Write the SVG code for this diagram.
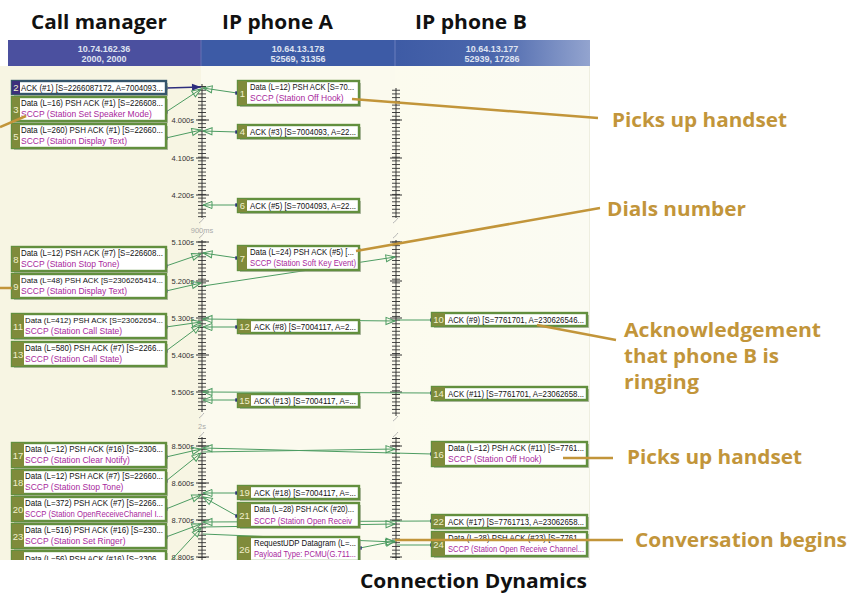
<svg xmlns="http://www.w3.org/2000/svg" width="864" height="594" viewBox="0 0 864 594">
<style>
.bx{fill:#fff;stroke:#628f3e;stroke-width:2.4}
.sh{fill:#8e9784;opacity:.6}
.nb{fill:#7f8b3b}
.nt{font-family:"Liberation Sans",Arial,sans-serif;font-size:9.5px;fill:#f1efcb;text-anchor:middle}
.t1{font-family:"Liberation Sans",Arial,sans-serif;font-size:8.5px;fill:#111}
.t1s{font-family:"Liberation Sans",Arial,sans-serif;font-size:8px;fill:#111}
.t2{font-family:"Liberation Sans",Arial,sans-serif;font-size:8.5px;fill:#a8289c}
.ht{font-family:"Liberation Sans",Arial,sans-serif;font-weight:bold;font-size:9px;fill:#dfe3f0;text-anchor:middle}
.tl{font-family:"Liberation Sans",Arial,sans-serif;font-size:7.5px;fill:#333;text-anchor:end}
.gl{font-family:"Liberation Sans",Arial,sans-serif;font-size:7.5px;fill:#aaa;text-anchor:middle}
.ti{font-family:"Open Sans","Liberation Sans",sans-serif;font-weight:700;font-size:20px;fill:#111}
.an{font-family:"Open Sans","Liberation Sans",sans-serif;font-weight:700;font-size:20px;fill:#c2953a}
.ld{stroke:#c2953a;stroke-width:2.5;fill:none}
.c{stroke:#4d9c62;stroke-width:1;fill:none;marker-end:url(#ar)}
.s{marker-start:url(#sq)}
.cn{stroke:#4d9c62;stroke-width:1;fill:none}
</style>
<defs>
<marker id="ar" markerUnits="userSpaceOnUse" refX="9" refY="3.5" markerWidth="10" markerHeight="8" orient="auto" overflow="visible"><path d="M0,0 L9,3.5 L0,7 Z" fill="none" stroke="#4d9c62" stroke-width="1"/></marker>
<marker id="ars" markerUnits="userSpaceOnUse" refX="9" refY="3.5" markerWidth="10" markerHeight="8" orient="auto-start-reverse" overflow="visible"><path d="M0,0 L9,3.5 L0,7 Z" fill="none" stroke="#4d9c62" stroke-width="1"/></marker>
<marker id="af" markerUnits="userSpaceOnUse" refX="9" refY="3.5" markerWidth="10" markerHeight="8" orient="auto" overflow="visible"><path d="M0,0 L9,3.5 L0,7 Z" fill="#2d2d7d"/></marker>
<marker id="sq" markerUnits="userSpaceOnUse" refX="0" refY="0" markerWidth="4" markerHeight="4" overflow="visible"><rect x="-1.7" y="-1.7" width="3.4" height="3.4" fill="#23237a"/></marker>
<pattern id="tk1" patternUnits="userSpaceOnUse" x="195" y="119.5" width="194" height="3.72"><rect x="3" y="0" width="8" height="0.9" fill="#333"/></pattern>
<pattern id="tk2" patternUnits="userSpaceOnUse" x="195" y="241.5" width="194" height="3.72"><rect x="3" y="0" width="8" height="0.9" fill="#333"/></pattern>
<pattern id="tk3" patternUnits="userSpaceOnUse" x="195" y="445.5" width="194" height="3.72"><rect x="3" y="0" width="8" height="0.9" fill="#333"/></pattern>
<linearGradient id="g3" x1="0" x2="1" y1="0" y2="0"><stop offset="0" stop-color="#3e5ba5"/><stop offset="0.5" stop-color="#4a66ac"/><stop offset="1" stop-color="#93a4cf"/></linearGradient>
<linearGradient id="b3" x1="0" x2="1" y1="0" y2="0"><stop offset="0" stop-color="#fcfbee"/><stop offset="1" stop-color="#fbfbf3"/></linearGradient>
<clipPath id="cb"><rect x="0" y="0" width="864" height="560"/></clipPath>
</defs>
<rect width="864" height="594" fill="#fff"/>

<g id="titles">
<text class="ti" x="31" y="29" textLength="136" lengthAdjust="spacingAndGlyphs">Call manager</text>
<text class="ti" x="222" y="29" textLength="111" lengthAdjust="spacingAndGlyphs">IP phone A</text>
<text class="ti" x="415" y="29" textLength="112" lengthAdjust="spacingAndGlyphs">IP phone B</text>
<text class="ti" x="360" y="588" textLength="227" lengthAdjust="spacingAndGlyphs">Connection Dynamics</text>
</g>

<g id="panel" clip-path="url(#cb)">
<rect x="0" y="66" width="201" height="494" fill="#f7f5e3"/>
<rect x="201" y="66" width="194" height="494" fill="#fbfaee"/>
<rect x="395" y="66" width="194" height="494" fill="url(#b3)"/>
<line x1="589.5" y1="66" x2="589.5" y2="560" stroke="#eeeee0"/>
<rect x="8" y="40" width="193" height="26" fill="#4b509f"/>
<rect x="201" y="40" width="194" height="26" fill="#3d5ba6"/>
<rect x="395" y="40" width="195" height="26" fill="url(#g3)"/>
<line x1="201" y1="40" x2="201" y2="66" stroke="#6672b4"/>
<line x1="395" y1="40" x2="395" y2="66" stroke="#6b7fbe"/>
<text class="ht" x="104" y="52">10.74.162.36</text>
<text class="ht" x="104" y="62">2000, 2000</text>
<text class="ht" x="298" y="52">10.64.13.178</text>
<text class="ht" x="298" y="62">52569, 31356</text>
<text class="ht" x="492" y="52">10.64.13.177</text>
<text class="ht" x="492" y="62">52939, 17286</text>
</g>

<g id="timeline" clip-path="url(#cb)">
<rect x="198" y="84" width="8" height="134" fill="url(#tk1)"/>
<rect x="392" y="88" width="8" height="130" fill="url(#tk1)"/>
<rect x="198" y="240" width="8" height="172" fill="url(#tk2)"/>
<rect x="392" y="240" width="8" height="176" fill="url(#tk2)"/>
<rect x="198" y="437" width="8" height="123" fill="url(#tk3)"/>
<rect x="392" y="437" width="8" height="123" fill="url(#tk3)"/>
<path d="M202,84V218M202,240V412M202,437V560M396,88V218M396,240V416M396,437V560" stroke="#333" stroke-width="1"/>
<path d="M196,120H209M196,158H209M196,195H209M196,242H209M196,281H209M196,318H209M196,355H209M196,392H209M196,446H209M196,483H209M196,520H209M196,557H209M390,120H402M390,158H402M390,195H402M390,242H402M390,281H402M390,318H402M390,355H402M390,392H402M390,446H402M390,483H402M390,520H402M390,557H402" stroke="#333" stroke-width="1"/>
<path d="M199,223c2,-1 3,-3 5,-5M199,238c2,-1 3,-3 5,-5M199,418c2,-1 3,-3 5,-5M199,437c2,-1 3,-3 5,-5M393,223c2,-1 3,-3 5,-5M393,238c2,-1 3,-3 5,-5M393,421c2,-1 3,-3 5,-5M393,437c2,-1 3,-3 5,-5" stroke="#b5b5b5" fill="none"/>
<text class="gl" x="202" y="233">900ms</text>
<text class="gl" x="202" y="429">2s</text>
<text class="tl" x="194" y="123">4.000s</text>
<text class="tl" x="194" y="161">4.100s</text>
<text class="tl" x="194" y="198">4.200s</text>
<text class="tl" x="194" y="245">5.100s</text>
<text class="tl" x="194" y="284">5.200s</text>
<text class="tl" x="194" y="321">5.300s</text>
<text class="tl" x="194" y="358">5.400s</text>
<text class="tl" x="194" y="395">5.500s</text>
<text class="tl" x="194" y="449">8.500s</text>
<text class="tl" x="194" y="486">8.600s</text>
<text class="tl" x="194" y="523">8.700s</text>
<text class="tl" x="194" y="560">8.800s</text>
</g>

<g id="connectors" clip-path="url(#cb)">
<path d="M166,88 L201,87" stroke="#2d2d7d" stroke-width="1.3" fill="none" marker-start="url(#sq)" marker-end="url(#af)"/>
<path class="c s" d="M166,112 L201,89"/>
<path class="c s" d="M237,93 L203,88"/>
<path class="c s" d="M166,138 L201,130"/>
<path class="c s" d="M237,132 L203,131"/>
<path class="c s" d="M237,205 L203,205"/>
<path class="c s" d="M166,266 L201,254"/>
<path class="c s" d="M237,258 L203,253"/>
<path class="c s" d="M166,291 L201,283"/>
<path class="c" d="M203,286 L395,257"/>
<path class="c s" d="M166,327 L201,322"/>
<path class="c s" d="M166,351 L201,325"/>
<path class="c s" d="M237,327 L203,327"/>
<path class="c" d="M203,319 L395,321" marker-start="url(#ars)"/>
<path class="cn s" d="M432,320 L397,320"/>
<path class="c s" d="M432,393 L203,392"/>
<path class="c s" d="M237,400 L203,400"/>
<path class="c s" d="M166,457 L201,449"/>
<path class="c s" d="M166,481 L201,453"/>
<path class="c" d="M203,452 L395,449"/>
<path class="c s" d="M432,454 L203,448"/>
<path class="c s" d="M166,509 L201,495"/>
<path class="c s" d="M237,493 L203,493"/>
<path class="c s" d="M237,516 L203,497"/>
<path class="c s" d="M166,537 L201,524"/>
<path class="c s" d="M432,521 L203,522"/>
<path class="c" d="M203,527 L395,524"/>
<path class="c" d="M203,534 L395,542"/>
<path class="cn s" d="M432,545 L397,545"/>
<path class="c s" d="M360,548 L395,541"/>
<path class="c" d="M166,566 L201,528"/>
</g>

<g id="nodes" clip-path="url(#cb)">
<g id="n2"><rect class="sh" x="14" y="83" width="154" height="13"/><rect x="12" y="81" width="154" height="13" fill="#fff" stroke="#35556b" stroke-width="2.4"/><rect x="12" y="81" width="8" height="13" fill="#3d2f7c"/><text class="nt" x="16" y="91" fill="#fff">2</text><text class="t1" x="21" y="91" textLength="142" lengthAdjust="spacingAndGlyphs">ACK (#1) [S=2266087172, A=7004093...</text></g>
<g id="n3"><rect class="sh" x="14" y="99" width="154" height="24"/><rect class="bx" x="12" y="97" width="154" height="24"/><rect class="nb" x="12" y="97" width="8" height="24"/><text class="nt" x="16" y="113">3</text><text class="t1" x="21" y="106" textLength="142" lengthAdjust="spacingAndGlyphs">Data (L=16) PSH ACK (#1) [S=226608...</text><text class="t2" x="21" y="117">SCCP (Station Set Speaker Mode)</text></g>
<g id="n5"><rect class="sh" x="14" y="126" width="154" height="24"/><rect class="bx" x="12" y="124" width="154" height="24"/><rect class="nb" x="12" y="124" width="8" height="24"/><text class="nt" x="16" y="140">5</text><text class="t1" x="21" y="133" textLength="142" lengthAdjust="spacingAndGlyphs">Data (L=260) PSH ACK (#1) [S=22660...</text><text class="t2" x="21" y="144">SCCP (Station Display Text)</text></g>
<g id="n8"><rect class="sh" x="14" y="249" width="154" height="24"/><rect class="bx" x="12" y="247" width="154" height="24"/><rect class="nb" x="12" y="247" width="8" height="24"/><text class="nt" x="16" y="263">8</text><text class="t1" x="21" y="256" textLength="142" lengthAdjust="spacingAndGlyphs">Data (L=12) PSH ACK (#7) [S=226608...</text><text class="t2" x="21" y="267">SCCP (Station Stop Tone)</text></g>
<g id="n9"><rect class="sh" x="14" y="276" width="154" height="24"/><rect class="bx" x="12" y="274" width="154" height="24"/><rect class="nb" x="12" y="274" width="8" height="24"/><text class="nt" x="16" y="290">9</text><text class="t1s" x="21" y="283" textLength="142" lengthAdjust="spacingAndGlyphs">Data (L=48) PSH ACK [S=2306265414...</text><text class="t2" x="21" y="294">SCCP (Station Display Text)</text></g>
<g id="n11"><rect class="sh" x="14" y="316" width="154" height="24"/><rect class="bx" x="12" y="314" width="154" height="24"/><rect class="nb" x="12" y="314" width="12" height="24"/><text class="nt" x="18" y="330">11</text><text class="t1s" x="25" y="323" textLength="138" lengthAdjust="spacingAndGlyphs">Data (L=412) PSH ACK [S=23062654...</text><text class="t2" x="25" y="334">SCCP (Station Call State)</text></g>
<g id="n13"><rect class="sh" x="14" y="344" width="154" height="24"/><rect class="bx" x="12" y="342" width="154" height="24"/><rect class="nb" x="12" y="342" width="12" height="24"/><text class="nt" x="18" y="358">13</text><text class="t1" x="25" y="351" textLength="138" lengthAdjust="spacingAndGlyphs">Data (L=580) PSH ACK (#7) [S=2266...</text><text class="t2" x="25" y="362">SCCP (Station Call State)</text></g>
<g id="n17"><rect class="sh" x="14" y="445" width="154" height="24"/><rect class="bx" x="12" y="443" width="154" height="24"/><rect class="nb" x="12" y="443" width="12" height="24"/><text class="nt" x="18" y="459">17</text><text class="t1" x="25" y="452" textLength="138" lengthAdjust="spacingAndGlyphs">Data (L=12) PSH ACK (#16) [S=2306...</text><text class="t2" x="25" y="463">SCCP (Station Clear Notify)</text></g>
<g id="n18"><rect class="sh" x="14" y="472" width="154" height="24"/><rect class="bx" x="12" y="470" width="154" height="24"/><rect class="nb" x="12" y="470" width="12" height="24"/><text class="nt" x="18" y="486">18</text><text class="t1" x="25" y="479" textLength="138" lengthAdjust="spacingAndGlyphs">Data (L=12) PSH ACK (#7) [S=22660...</text><text class="t2" x="25" y="490">SCCP (Station Stop Tone)</text></g>
<g id="n20"><rect class="sh" x="14" y="499" width="154" height="24"/><rect class="bx" x="12" y="497" width="154" height="24"/><rect class="nb" x="12" y="497" width="12" height="24"/><text class="nt" x="18" y="513">20</text><text class="t1" x="25" y="506" textLength="138" lengthAdjust="spacingAndGlyphs">Data (L=372) PSH ACK (#7) [S=2266...</text><text class="t2" x="25" y="517" textLength="138" lengthAdjust="spacingAndGlyphs">SCCP (Station OpenReceiveChannel I...</text></g>
<g id="n23"><rect class="sh" x="14" y="526" width="154" height="24"/><rect class="bx" x="12" y="524" width="154" height="24"/><rect class="nb" x="12" y="524" width="12" height="24"/><text class="nt" x="18" y="540">23</text><text class="t1" x="25" y="533" textLength="138" lengthAdjust="spacingAndGlyphs">Data (L=516) PSH ACK (#16) [S=230...</text><text class="t2" x="25" y="544">SCCP (Station Set Ringer)</text></g>
<g id="n25"><rect class="sh" x="14" y="553" width="154" height="24"/><rect class="bx" x="12" y="551" width="154" height="24"/><rect class="nb" x="12" y="551" width="12" height="24"/><text class="t1" x="25" y="562" textLength="138" lengthAdjust="spacingAndGlyphs">Data (L=56) PSH ACK (#16) [S=2306...</text></g>

<g id="n1"><rect class="sh" x="240" y="83" width="121" height="24"/><rect class="bx" x="238" y="81" width="121" height="24"/><rect class="nb" x="238" y="81" width="9" height="24"/><text class="nt" x="242.5" y="97">1</text><text class="t1" x="250" y="90" textLength="104" lengthAdjust="spacingAndGlyphs">Data (L=12) PSH ACK [S=70...</text><text class="t2" x="250" y="101">SCCP (Station Off Hook)</text></g>
<g id="n4"><rect class="sh" x="240" y="127" width="121" height="13"/><rect class="bx" x="238" y="125" width="121" height="13"/><rect class="nb" x="238" y="125" width="9" height="13"/><text class="nt" x="242.5" y="135">4</text><text class="t1" x="250" y="135" textLength="106" lengthAdjust="spacingAndGlyphs">ACK (#3) [S=7004093, A=22...</text></g>
<g id="n6"><rect class="sh" x="240" y="201" width="121" height="13"/><rect class="bx" x="238" y="199" width="121" height="13"/><rect class="nb" x="238" y="199" width="9" height="13"/><text class="nt" x="242.5" y="209">6</text><text class="t1" x="250" y="209" textLength="106" lengthAdjust="spacingAndGlyphs">ACK (#5) [S=7004093, A=22...</text></g>
<g id="n7"><rect class="sh" x="240" y="248" width="121" height="24"/><rect class="bx" x="238" y="246" width="121" height="24"/><rect class="nb" x="238" y="246" width="9" height="24"/><text class="nt" x="242.5" y="262">7</text><text class="t1" x="250" y="255" textLength="104" lengthAdjust="spacingAndGlyphs">Data (L=24) PSH ACK (#5) [...</text><text class="t2" x="250" y="266" textLength="106" lengthAdjust="spacingAndGlyphs">SCCP (Station Soft Key Event)</text></g>
<g id="n12"><rect class="sh" x="240" y="322" width="121" height="13"/><rect class="bx" x="238" y="320" width="121" height="13"/><rect class="nb" x="238" y="320" width="13" height="13"/><text class="nt" x="244.5" y="330">12</text><text class="t1" x="254" y="330" textLength="102" lengthAdjust="spacingAndGlyphs">ACK (#8) [S=7004117, A=2...</text></g>
<g id="n15"><rect class="sh" x="240" y="396" width="121" height="13"/><rect class="bx" x="238" y="394" width="121" height="13"/><rect class="nb" x="238" y="394" width="13" height="13"/><text class="nt" x="244.5" y="404">15</text><text class="t1" x="254" y="404" textLength="102" lengthAdjust="spacingAndGlyphs">ACK (#13) [S=7004117, A=...</text></g>
<g id="n19"><rect class="sh" x="240" y="488" width="121" height="13"/><rect class="bx" x="238" y="486" width="121" height="13"/><rect class="nb" x="238" y="486" width="13" height="13"/><text class="nt" x="244.5" y="496">19</text><text class="t1" x="254" y="496" textLength="102" lengthAdjust="spacingAndGlyphs">ACK (#18) [S=7004117, A=...</text></g>
<g id="n21"><rect class="sh" x="240" y="505" width="121" height="24"/><rect class="bx" x="238" y="503" width="121" height="24"/><rect class="nb" x="238" y="503" width="13" height="24"/><text class="nt" x="244.5" y="519">21</text><text class="t1" x="254" y="512" textLength="100" lengthAdjust="spacingAndGlyphs">Data (L=28) PSH ACK (#20)...</text><text class="t2" x="254" y="524" textLength="98" lengthAdjust="spacingAndGlyphs">SCCP (Station Open Receiv</text></g>
<g id="n26"><rect class="sh" x="240" y="539" width="121" height="24"/><rect class="bx" x="238" y="537" width="121" height="24"/><rect class="nb" x="238" y="537" width="13" height="24"/><text class="nt" x="244.5" y="553">26</text><text class="t1" x="254" y="546" textLength="102" lengthAdjust="spacingAndGlyphs">RequestUDP Datagram  (L=...</text><text class="t2" x="254" y="557" textLength="102" lengthAdjust="spacingAndGlyphs">Payload Type: PCMU(G.711...</text></g>

<g id="n10"><rect class="sh" x="434" y="315" width="155" height="13"/><rect class="bx" x="432" y="313" width="155" height="13"/><rect class="nb" x="432" y="313" width="13" height="13"/><text class="nt" x="438.5" y="323">10</text><text class="t1" x="448" y="323" textLength="136" lengthAdjust="spacingAndGlyphs">ACK (#9) [S=7761701, A=230626546...</text></g>
<g id="n14"><rect class="sh" x="434" y="389" width="155" height="13"/><rect class="bx" x="432" y="387" width="155" height="13"/><rect class="nb" x="432" y="387" width="13" height="13"/><text class="nt" x="438.5" y="397">14</text><text class="t1" x="448" y="397" textLength="136" lengthAdjust="spacingAndGlyphs">ACK (#11) [S=7761701, A=23062658...</text></g>
<g id="n16"><rect class="sh" x="434" y="444" width="155" height="24"/><rect class="bx" x="432" y="442" width="155" height="24"/><rect class="nb" x="432" y="442" width="13" height="24"/><text class="nt" x="438.5" y="458">16</text><text class="t1" x="448" y="451" textLength="136" lengthAdjust="spacingAndGlyphs">Data (L=12) PSH ACK (#11) [S=7761...</text><text class="t2" x="448" y="462">SCCP (Station Off Hook)</text></g>
<g id="n22"><rect class="sh" x="434" y="517" width="155" height="13"/><rect class="bx" x="432" y="515" width="155" height="13"/><rect class="nb" x="432" y="515" width="13" height="13"/><text class="nt" x="438.5" y="525">22</text><text class="t1" x="448" y="525" textLength="136" lengthAdjust="spacingAndGlyphs">ACK (#17) [S=7761713, A=23062658...</text></g>
<g id="n24"><rect class="sh" x="434" y="534" width="155" height="24"/><rect class="bx" x="432" y="532" width="155" height="24"/><rect class="nb" x="432" y="532" width="13" height="24"/><text class="nt" x="438.5" y="548">24</text><text class="t1" x="448" y="541" textLength="136" lengthAdjust="spacingAndGlyphs">Data (L=28) PSH ACK (#23) [S=7761...</text><text class="t2" x="448" y="552" textLength="136" lengthAdjust="spacingAndGlyphs">SCCP (Station Open Receive Channel...</text></g>
</g>

<g id="annotations">
<path class="ld" d="M352,99 L598,118M356,251 L600,208M537,325 L616,340M563,458 L613,458M395,540 L623,540M0,127 L26,116M0,288 L12,288"/>
<text class="an" x="612" y="127" textLength="175" lengthAdjust="spacingAndGlyphs">Picks up handset</text>
<text class="an" x="607" y="216" textLength="139" lengthAdjust="spacingAndGlyphs">Dials number</text>
<text class="an" x="624" y="337" textLength="197" lengthAdjust="spacingAndGlyphs">Acknowledgement</text>
<text class="an" x="624" y="363" textLength="155" lengthAdjust="spacingAndGlyphs">that phone B is</text>
<text class="an" x="624" y="389" textLength="75" lengthAdjust="spacingAndGlyphs">ringing</text>
<text class="an" x="627" y="464" textLength="175" lengthAdjust="spacingAndGlyphs">Picks up handset</text>
<text class="an" x="635" y="547" textLength="212" lengthAdjust="spacingAndGlyphs">Conversation begins</text>
</g>
</svg>
